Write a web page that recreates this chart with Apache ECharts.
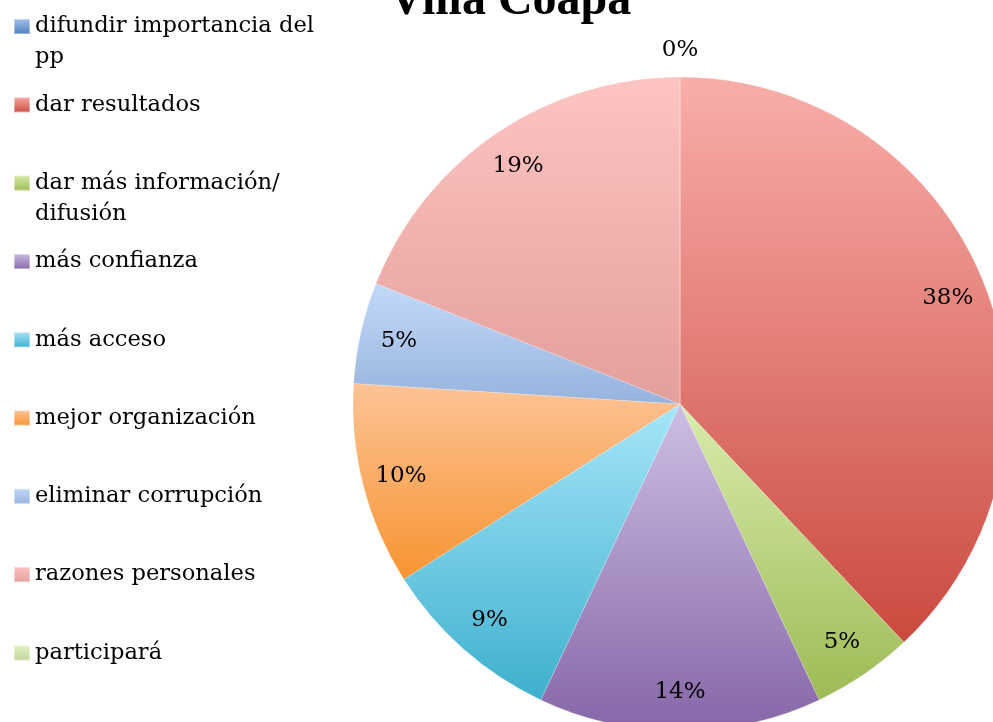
<!DOCTYPE html>
<html>
<head>
<meta charset="utf-8">
<script src="https://cdn.jsdelivr.net/npm/echarts@6/dist/echarts.min.js"></script>
<style>html,body{margin:0;padding:0;background:#fff;}#c{width:993px;height:722px;}</style>
</head>
<body>
<div id="c"></div>
<script>
const categories = ['difundir importancia del pp', 'dar resultados', 'dar más información/ difusión', 'más confianza', 'más acceso', 'mejor organización', 'eliminar corrupción', 'razones personales', 'participará'];
const legendLines = [['difundir importancia del', 'pp'], ['dar resultados', ''], ['dar más información/', 'difusión'], ['más confianza', ''], ['más acceso', ''], ['mejor organización', ''], ['eliminar corrupción', ''], ['razones personales', ''], ['participará', '']];
const values = [0, 38, 5, 14, 9, 10, 5, 19, 0];
const colorTop = ['#a6c3ee', '#f9aeaa', '#d9ecad', '#cdbfe4', '#a6e5f9', '#fdc396', '#c2d9f9', '#fdc4c2', '#e2f1c6'];
const colorBottom = ['#4a7ebb', '#ca4a3f', '#9dbb55', '#8666a8', '#3eb0cd', '#f79431', '#97b3dd', '#e39f9b', '#c2d69a'];
const titleText = 'Villa Coapa';

const FONT = 'DejaVu Serif';
const grad = i => ({type: 'linear', x: 0, y: 0, x2: 0, y2: 1, colorStops: [{offset: 0, color: colorTop[i]}, {offset: 1, color: colorBottom[i]}]});

const chart = echarts.init(document.getElementById('c'), null, {renderer: 'canvas'});
const mainData = categories.map((n, i) => ({name: n, value: values[i], itemStyle: {color: grad(i)}}));
const labelData = categories.map((n, i) => {
  const d = {name: n, value: values[i]};
  if (i === 0) d.label = {offset: [0, -66]};
  if (i === categories.length - 1) d.label = {show: false};
  return d;
});

chart.setOption({
  backgroundColor: '#ffffff',
  animation: false,
  title: {
    text: titleText, left: 389, top: -22, padding: 0,
    textStyle: {fontFamily: 'Liberation Serif', fontWeight: 'bold', fontSize: 48, color: '#000'}
  },
  legend: {
    orient: 'vertical', left: 13, top: -16, padding: 0, itemGap: -6.7,
    itemWidth: 16, itemHeight: 15, icon: 'rect',
    data: categories,
    formatter: name => {
      const l = legendLines[categories.indexOf(name)];
      return '{e| }\n{n|' + l[0] + '}\n{e|' + (l[1] || ' ') + '}';
    },
    textStyle: {
      fontFamily: FONT, fontSize: 22.6, color: '#000',
      rich: {
        e: {fontFamily: FONT, fontSize: 22.6, lineHeight: 16, color: '#000'},
        n: {fontFamily: FONT, fontSize: 22.6, lineHeight: 46, color: '#000'}
      }
    }
  },
  series: [
    {
      type: 'pie', center: [680, 404], radius: [0, 327], startAngle: 90, clockwise: true,
      silent: true, label: {show: false}, labelLine: {show: false},
      itemStyle: {borderWidth: 0.5, borderColor: 'rgba(255,255,255,0.4)'},
      data: mainData
    },
    {
      type: 'pie', center: [680, 404], radius: [243, 327], startAngle: 90, clockwise: true,
      silent: true, avoidLabelOverlap: false,
      itemStyle: {color: 'rgba(0,0,0,0)', borderWidth: 0},
      label: {show: true, position: 'inside', formatter: p => p.value + '%', fontFamily: FONT, fontSize: 23, color: '#000'},
      labelLine: {show: false},
      data: labelData
    }
  ]
});
</script>
</body>
</html>
